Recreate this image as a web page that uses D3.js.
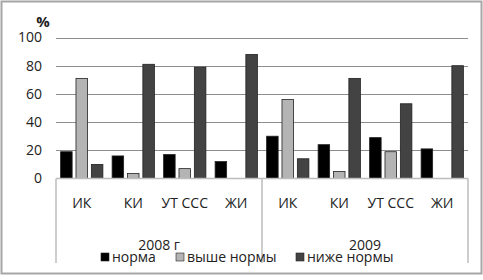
<!DOCTYPE html>
<html>
<head>
<meta charset="utf-8">
<script src="https://cdn.jsdelivr.net/npm/d3@7"></script>
<style>
  body { margin: 0; background: #fff; }
  text { font-family: "Open Sans", sans-serif; fill: #222; }
</style>
</head>
<body>
<div id="chart"></div>
<script>
// data
const years = ["2008 г", "2009"];
const indices = ["ИК", "КИ", "УТ ССС", "ЖИ"];
const seriesNames = ["норма", "выше нормы", "ниже нормы"];
const norma2008 = [19, 16, 17, 12];
const vyshe2008 = [71, 3.5, 7, 0];
const nizhe2008 = [10, 81, 79, 88];
const norma2009 = [30, 24, 29, 21];
const vyshe2009 = [56, 5, 19, 0];
const nizhe2009 = [14, 71, 53, 80];
const yTicks = [0, 20, 40, 60, 80, 100];

const width = 483, height = 280;
const margin = {left: 56, right: 15, top: 37, bottom: 102};
const colors = ["#000000", "#b4b4b4", "#434343"];

// build rows for the 8 category slots
const rows = [];
years.forEach((yr, yi) => {
    const vals = yi === 0 ? [norma2008, vyshe2008, nizhe2008] : [norma2009, vyshe2009, nizhe2009];
    indices.forEach((c, ci) => {
        rows.push({key: yr + "|" + c, label: c, year: yr, values: vals.map(v => v[ci])});
    });
});

var svg = d3.select("#chart")
    .append("svg")
    .attr("width", width)
    .attr("height", height);

// outer frame
svg.append("rect")
    .attr("x", 1.5).attr("y", 1.5)
    .attr("width", 480).attr("height", 272)
    .attr("fill", "#fff")
    .attr("stroke", "#a6a6a6")
    .attr("stroke-width", 2);

const x0 = d3.scaleBand()
    .domain(rows.map(d => d.key))
    .range([margin.left, width - margin.right]);

const x1 = d3.scaleBand()
    .domain(seriesNames)
    .range([0, x0.bandwidth()])
    .paddingInner(0.25)
    .paddingOuter(0.3);

const y = d3.scaleLinear()
    .domain([0, 100])
    .range([178.5, 37.5]);

// gridlines
svg.append("g")
    .selectAll("line")
    .data(yTicks.slice(1))
    .enter()
    .append("line")
    .attr("x1", margin.left)
    .attr("x2", width - margin.right)
    .attr("y1", d => Math.round(y(d)) + 0.5)
    .attr("y2", d => Math.round(y(d)) + 0.5)
    .attr("stroke", "#8e8e8e")
    .attr("stroke-width", 1);

// y labels
svg.append("g")
    .selectAll("text")
    .data(yTicks)
    .enter()
    .append("text")
    .attr("x", 42)
    .attr("y", d => y(d))
    .attr("dy", "0.35em")
    .attr("text-anchor", "end")
    .style("font-size", "14px")
    .text(d => d);

svg.append("text")
    .attr("x", 43)
    .attr("y", 27)
    .attr("text-anchor", "middle")
    .style("font-size", "15px")
    .style("font-weight", "bold")
    .text("%");

// bars
const groups = svg.append("g")
    .selectAll("g")
    .data(rows)
    .enter()
    .append("g")
    .attr("transform", d => "translate(" + x0(d.key) + ",0)");

groups.selectAll("rect")
    .data(d => d.values.map((v, i) => ({name: seriesNames[i], value: v, i: i})).filter(e => e.value > 0))
    .enter()
    .append("rect")
    .attr("x", d => x1(d.name))
    .attr("y", d => y(d.value))
    .attr("width", x1.bandwidth())
    .attr("height", d => y(0) - y(d.value))
    .attr("fill", d => colors[d.i])
    .attr("stroke", "#222")
    .attr("stroke-width", 0.8);

// category axis box
const axisG = svg.append("g").attr("stroke", "#bdbdbd").attr("stroke-width", 1.5);
axisG.append("line")
    .attr("x1", margin.left).attr("x2", width - margin.right)
    .attr("y1", y(0)).attr("y2", y(0));
const yearEdges = [margin.left, x0(rows[4].key), width - margin.right];
axisG.selectAll("line.sep")
    .data(yearEdges)
    .enter()
    .append("line")
    .attr("class", "sep")
    .attr("x1", d => d).attr("x2", d => d)
    .attr("y1", y(0)).attr("y2", 263);

// category labels
svg.append("g")
    .selectAll("text")
    .data(rows)
    .enter()
    .append("text")
    .attr("x", d => x0(d.key) + x0.bandwidth() / 2)
    .attr("y", 203)
    .attr("dy", "0.35em")
    .attr("text-anchor", "middle")
    .style("font-size", "14px")
    .text(d => d.label);

// year labels
svg.append("g")
    .selectAll("text")
    .data(years)
    .enter()
    .append("text")
    .attr("x", (d, i) => (yearEdges[i] + yearEdges[i + 1]) / 2)
    .attr("y", 245)
    .attr("dy", "0.35em")
    .attr("text-anchor", "middle")
    .style("font-size", "14px")
    .text(d => d);

// legend
const legendX = [101, 176, 296];
const legend = svg.append("g")
    .selectAll("g")
    .data(seriesNames)
    .enter()
    .append("g")
    .attr("transform", (d, i) => "translate(" + legendX[i] + ",253)");
legend.append("rect")
    .attr("width", 8).attr("height", 8)
    .attr("fill", (d, i) => colors[i])
    .attr("stroke", "#222")
    .attr("stroke-width", 0.6);
legend.append("text")
    .attr("x", 11)
    .attr("y", 4)
    .attr("dy", "0.35em")
    .style("font-size", "14px")
    .text(d => d);
</script>
</body>
</html>
